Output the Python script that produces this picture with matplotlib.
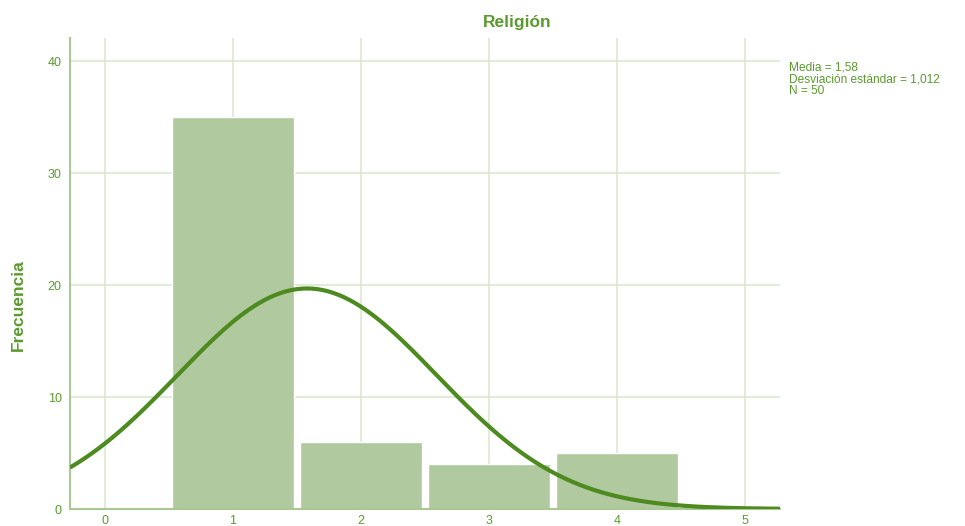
import numpy as np
import matplotlib
matplotlib.use('Agg')
import matplotlib.pyplot as plt

# --- datos ---
categorias = [1, 2, 3, 4]
frecuencias = [35, 6, 4, 5]
media = 1.58
desviacion = 1.012
n_total = 50
ticks_x = [0, 1, 2, 3, 4, 5]
ticks_y = [0, 10, 20, 30, 40]

COLOR_BARRA = '#b0c99f'
COLOR_CURVA = '#4d8a1f'
COLOR_TEXTO = '#5b9a2e'
COLOR_GRID = '#dbe9cf'

plt.rcParams['font.family'] = ['Liberation Sans', 'DejaVu Sans']

fig = plt.figure(figsize=(9.65, 5.26), dpi=100)
ax = fig.add_axes([0.0725, 0.0323, 0.7358, 0.8955])

ax.bar(categorias, frecuencias, width=0.95, color=COLOR_BARRA, edgecolor='white',
       linewidth=1.0, zorder=2)

# curva normal escalada (ancho de intervalo = 1)
xs = np.linspace(-0.27, 5.27, 400)
ys = n_total * np.exp(-0.5 * ((xs - media) / desviacion) ** 2) / (desviacion * np.sqrt(2 * np.pi))
ax.plot(xs, ys, color=COLOR_CURVA, linewidth=3, zorder=3, solid_capstyle='butt')

ax.set_xlim(-0.27, 5.27)
ax.set_ylim(0, 42.1)
ax.set_xticks(ticks_x)
ax.set_yticks(ticks_y)
ax.tick_params(length=0, colors=COLOR_TEXTO, labelsize=9)
ax.tick_params(axis='x', pad=4)
ax.tick_params(axis='y', pad=6)
ax.grid(True, color=COLOR_GRID, linewidth=1.2, zorder=0)
ax.set_axisbelow(True)

for lado in ['top', 'right']:
    ax.spines[lado].set_visible(False)
for lado in ['left', 'bottom']:
    ax.spines[lado].set_color('#a9c896')
    ax.spines[lado].set_linewidth(1.5)

fig.text(0.536, 0.958, 'Religión', ha='center', va='center', fontsize=12.5,
         fontweight='bold', color=COLOR_TEXTO)
fig.text(0.019, 0.42, 'Frecuencia', ha='center', va='center', rotation=90,
         fontsize=12.5, fontweight='bold', color=COLOR_TEXTO)

fig.text(0.818, 0.884,
         f'Media = {media:.2f}'.replace('.', ',') + '\n'
         + f'Desviación estándar = {desviacion:.3f}'.replace('.', ',') + '\n'
         + f'N = {n_total}',
         ha='left', va='top', fontsize=8.6, color=COLOR_TEXTO, linespacing=1.02)

fig.savefig('out.png', dpi=100)
